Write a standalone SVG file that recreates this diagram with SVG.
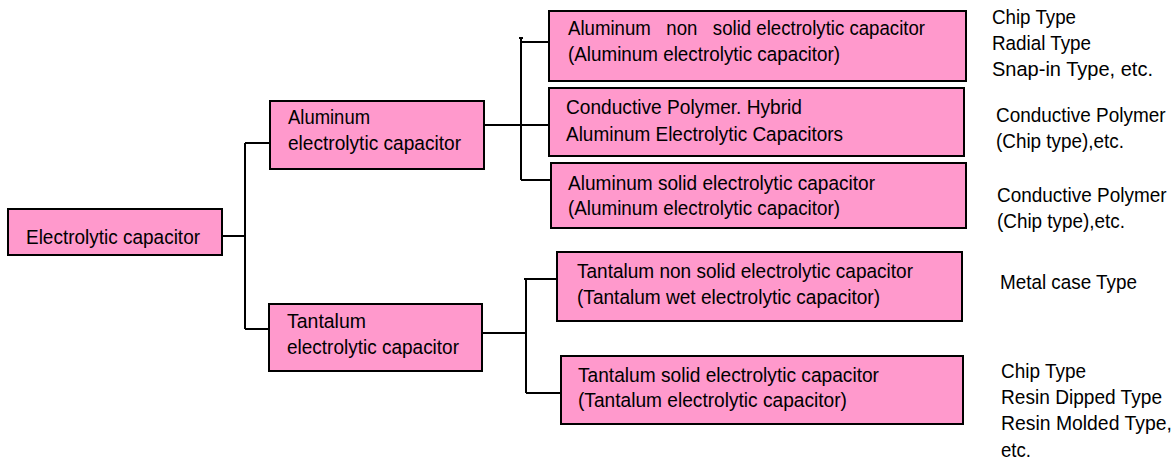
<svg xmlns="http://www.w3.org/2000/svg" width="1176" height="461" viewBox="0 0 1176 461">
<style>
.box{fill:#FF99CC;stroke:#000;stroke-width:2}
.t{font-family:"Liberation Sans",Arial,sans-serif;font-size:20.5px;fill:#000;white-space:pre}
.ln{fill:none;stroke:#000;stroke-width:2}
</style>
<rect width="1176" height="461" fill="#fff"/>
<g id="connectors">
<path class="ln" d="M222 236H245M245 143V329M245 143H270M245 329H269"/>
<path class="ln" d="M484 125H549M521 38V180M519 38H523M521 42H549M521 180H551"/>
<path class="ln" d="M482 333H527M526 278V393M524 279H557M526 393H561"/>
</g>
<g id="n-root">
<rect class="box" x="8" y="209" width="214" height="46"/>
<text class="t" x="26" y="244" textLength="174" lengthAdjust="spacingAndGlyphs">Electrolytic capacitor</text>
</g>
<g id="n-aluminum">
<rect class="box" x="270" y="101" width="214" height="68"/>
<text class="t" x="288" y="124" textLength="82" lengthAdjust="spacingAndGlyphs">Aluminum</text>
<text class="t" x="288" y="150" textLength="173" lengthAdjust="spacingAndGlyphs">electrolytic capacitor</text>
</g>
<g id="n-tantalum">
<rect class="box" x="269" y="304" width="213" height="67"/>
<text class="t" x="287" y="328" textLength="79" lengthAdjust="spacingAndGlyphs">Tantalum</text>
<text class="t" x="287" y="354" textLength="172" lengthAdjust="spacingAndGlyphs">electrolytic capacitor</text>
</g>
<g id="n-al-nonsolid">
<rect class="box" x="549" y="11" width="417" height="70"/>
<text class="t" x="568" y="35" textLength="357" lengthAdjust="spacingAndGlyphs">Aluminum   non   solid electrolytic capacitor</text>
<text class="t" x="568" y="61" textLength="272" lengthAdjust="spacingAndGlyphs">(Aluminum electrolytic capacitor)</text>
</g>
<g id="n-al-hybrid">
<rect class="box" x="549" y="88" width="415" height="68"/>
<text class="t" x="566" y="114" textLength="236" lengthAdjust="spacingAndGlyphs">Conductive Polymer. Hybrid</text>
<text class="t" x="566" y="141" textLength="277" lengthAdjust="spacingAndGlyphs">Aluminum Electrolytic Capacitors</text>
</g>
<g id="n-al-solid">
<rect class="box" x="551" y="163" width="415" height="65"/>
<text class="t" x="568" y="190" textLength="307" lengthAdjust="spacingAndGlyphs">Aluminum solid electrolytic capacitor</text>
<text class="t" x="568" y="215" textLength="272" lengthAdjust="spacingAndGlyphs">(Aluminum electrolytic capacitor)</text>
</g>
<g id="n-ta-nonsolid">
<rect class="box" x="557" y="252" width="405" height="69"/>
<text class="t" x="577" y="278" textLength="336" lengthAdjust="spacingAndGlyphs">Tantalum non solid electrolytic capacitor</text>
<text class="t" x="577" y="304" textLength="303" lengthAdjust="spacingAndGlyphs">(Tantalum wet electrolytic capacitor)</text>
</g>
<g id="n-ta-solid">
<rect class="box" x="561" y="356" width="402" height="68"/>
<text class="t" x="578" y="382" textLength="301" lengthAdjust="spacingAndGlyphs">Tantalum solid electrolytic capacitor</text>
<text class="t" x="578" y="407" textLength="269" lengthAdjust="spacingAndGlyphs">(Tantalum electrolytic capacitor)</text>
</g>
<g id="notes-al-nonsolid">
<text class="t" x="992" y="24" textLength="84" lengthAdjust="spacingAndGlyphs">Chip Type</text>
<text class="t" x="992" y="50" textLength="99" lengthAdjust="spacingAndGlyphs">Radial Type</text>
<text class="t" x="992" y="76" textLength="161" lengthAdjust="spacingAndGlyphs">Snap-in Type, etc.</text>
</g>
<g id="notes-al-hybrid">
<text class="t" transform="translate(996 122) scale(0.925 1)">Conductive Polymer</text>
<text class="t" x="996" y="148" textLength="128" lengthAdjust="spacingAndGlyphs">(Chip type),etc.</text>
</g>
<g id="notes-al-solid">
<text class="t" transform="translate(997 202) scale(0.925 1)">Conductive Polymer</text>
<text class="t" x="997" y="228" textLength="128" lengthAdjust="spacingAndGlyphs">(Chip type),etc.</text>
</g>
<g id="notes-ta-nonsolid">
<text class="t" x="1000" y="289" textLength="137" lengthAdjust="spacingAndGlyphs">Metal case Type</text>
</g>
<g id="notes-ta-solid">
<text class="t" x="1001" y="378" textLength="85" lengthAdjust="spacingAndGlyphs">Chip Type</text>
<text class="t" x="1001" y="404" textLength="161" lengthAdjust="spacingAndGlyphs">Resin Dipped Type</text>
<text class="t" transform="translate(1001 430) scale(0.945 1)">Resin Molded Type,</text>
<text class="t" x="1001" y="457" textLength="30" lengthAdjust="spacingAndGlyphs">etc.</text>
</g>
</svg>
